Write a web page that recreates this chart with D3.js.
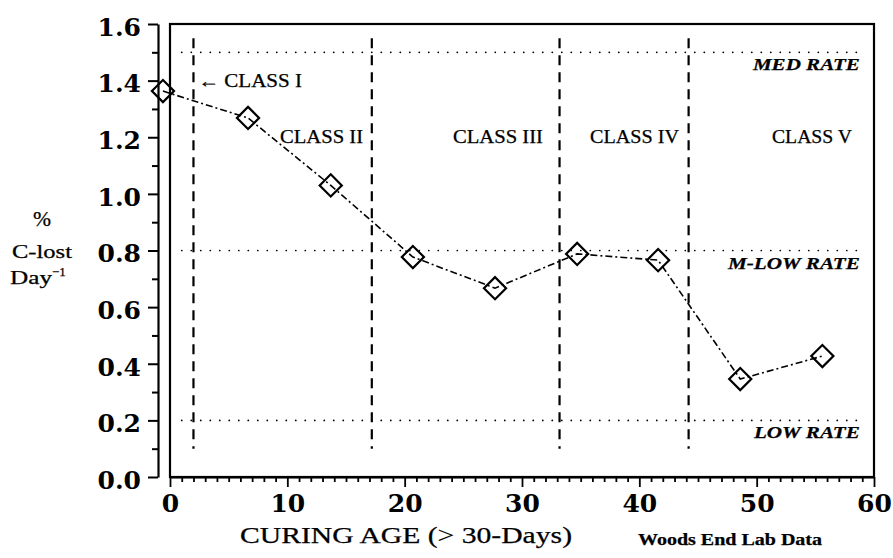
<!DOCTYPE html>
<html>
<head>
<meta charset="utf-8">
<script src="https://cdn.jsdelivr.net/npm/d3@7"></script>
<style>
  html, body { margin: 0; padding: 0; background: #fff; }
  svg { display: block; }
  .tick-label { font-family: "DejaVu Serif", serif; font-weight: bold; font-size: 25px; fill: #000; }
  .cm { font-family: "Liberation Serif", "Times New Roman", serif; fill: #000; stroke: #000; stroke-width: 0.25px; }
</style>
</head>
<body>
<svg id="chart" width="893" height="558"></svg>
<script>
// values
const curingAge = [-0.6, 6.65, 13.7, 20.7, 27.7, 34.7, 41.6, 48.6, 55.6];
const carbonLost = [1.363, 1.268, 1.03, 0.777, 0.667, 0.788, 0.766, 0.346, 0.427];

const classBounds = [2, 17.2, 33.2, 44.2];
const classNames = ["CLASS II", "CLASS III", "CLASS IV", "CLASS V"];

const rateLevels = [1.5, 0.8, 0.2];
const rateNames = ["MED RATE", "M-LOW RATE", "LOW RATE"];

const xTicks = [0, 10, 20, 30, 40, 50, 60];
const yTicks = [0, 0.2, 0.4, 0.6, 0.8, 1.0, 1.2, 1.4, 1.6];

const svg = d3.select("#chart");

const x = d3.scaleLinear().domain([0, 60]).range([170, 874]);
const y = d3.scaleLinear().domain([0, 1.6]).range([477, 24]);

// text helper, stretched to the width measured on the picture
function label(g, txt, px, py, opts) {
  const t = g.append("text")
    .attr("class", "cm")
    .attr("x", px)
    .attr("y", py)
    .attr("text-anchor", opts.anchor || "start")
    .style("font-size", opts.size + "px")
    .text(txt);
  if (opts.weight) t.style("font-weight", opts.weight);
  if (opts.italic) t.style("font-style", "italic");
  if (opts.width) t.attr("textLength", opts.width).attr("lengthAdjust", "spacingAndGlyphs");
  return t;
}

// frame
svg.append("rect")
  .attr("x", x(0)).attr("y", y(1.6))
  .attr("width", x(60) - x(0)).attr("height", y(0) - y(1.6))
  .attr("fill", "none").attr("stroke", "#000").attr("stroke-width", 2.2);

// rate reference lines (dotted)
const rates = svg.append("g");
rates.selectAll("line")
  .data(rateLevels)
  .join("line")
  .attr("x1", x(1)).attr("x2", x(59))
  .attr("y1", d => y(d)).attr("y2", d => y(d))
  .attr("stroke", "#000").attr("stroke-width", 1.7)
  .attr("stroke-linecap", "round")
  .attr("stroke-dasharray", "0.1,9.4");

const rateWidths = [107, 132, 106];
rateLevels.forEach((d, i) => {
  label(rates, rateNames[i], x(58.8) - rateWidths[i], y(d) + 18, {
    size: 17, weight: "bold", italic: true, width: rateWidths[i]
  });
});

// class boundaries (dashed)
svg.append("g").selectAll("line")
  .data(classBounds)
  .join("line")
  .attr("x1", d => x(d)).attr("x2", d => x(d))
  .attr("y1", y(1.55)).attr("y2", y(0.1))
  .attr("stroke", "#000").attr("stroke-width", 2.2)
  .attr("stroke-dasharray", "10,7");

const classes = svg.append("g");
label(classes, "\u2190 CLASS I", 198, 87, { size: 18, width: 104 });
const classLeft = [280, 453, 590, 772];
const classWidth = [83, 90, 89, 80];
classNames.forEach((n, i) => {
  label(classes, n, classLeft[i], 143, { size: 18, width: classWidth[i] });
});

// y axis, offset left of the frame
const yAxis = svg.append("g").attr("transform", "translate(158,0)");
yAxis.call(d3.axisLeft(y).tickValues(yTicks).tickSize(10).tickSizeOuter(0).tickPadding(7)
  .tickFormat(d3.format(".1f")));
yAxis.append("g").call(d3.axisLeft(y).tickValues(d3.range(0.1, 1.6, 0.2)).tickSize(6).tickFormat(""))
  .select(".domain").remove();
yAxis.selectAll("path.domain").attr("stroke-width", 2.2);
yAxis.selectAll(".tick line").attr("stroke-width", 2);
yAxis.selectAll(".tick text").attr("class", "tick-label").attr("dy", "0.45em");

// x axis on the bottom edge of the frame
const xAxis = svg.append("g").attr("transform", `translate(0,${y(0)})`);
xAxis.call(d3.axisBottom(x).tickValues(xTicks).tickSize(10).tickSizeOuter(0).tickFormat(d3.format("d")));
xAxis.append("g").call(d3.axisBottom(x).tickValues(d3.range(1, 60).filter(d => d % 10)).tickSize(5).tickFormat(""))
  .select(".domain").remove();
xAxis.selectAll("path.domain").attr("stroke-width", 2.2);
xAxis.selectAll(".tick line").attr("stroke-width", 1.8);
xAxis.selectAll(".tick text").attr("class", "tick-label").attr("y", 35).attr("dy", null);

// series: dash-dot line with open diamonds
const pts = curingAge.map((a, i) => [a, carbonLost[i]]);
svg.append("path")
  .datum(pts)
  .attr("d", d3.line().x(d => x(d[0])).y(d => y(d[1])))
  .attr("fill", "none").attr("stroke", "#000").attr("stroke-width", 1.6)
  .attr("stroke-dasharray", "7,3,2,3");

svg.append("g").selectAll("path")
  .data(pts)
  .join("path")
  .attr("d", d3.symbol(d3.symbolSquare, 245))
  .attr("transform", d => `translate(${x(d[0])},${y(d[1])}) rotate(45)`)
  .attr("fill", "none").attr("stroke", "#000").attr("stroke-width", 2.2);

// axis titles
const titles = svg.append("g");
label(titles, "%", 42, 226, { anchor: "middle", size: 22, width: 18 });
label(titles, "C-lost", 12, 258, { size: 18, width: 60 });
const day = titles.append("text").attr("class", "cm").attr("x", 10).attr("y", 284).style("font-size", "18px");
day.append("tspan").text("Day").attr("textLength", 42).attr("lengthAdjust", "spacingAndGlyphs");
day.append("tspan").text("\u22121").attr("dy", -8).style("font-size", "13px");

label(titles, "CURING AGE (> 30-Days)", 240, 543, { size: 23, width: 332 });
label(titles, "Woods End Lab Data", 638, 545, { size: 16, weight: "bold", width: 184 });
</script>
</body>
</html>
